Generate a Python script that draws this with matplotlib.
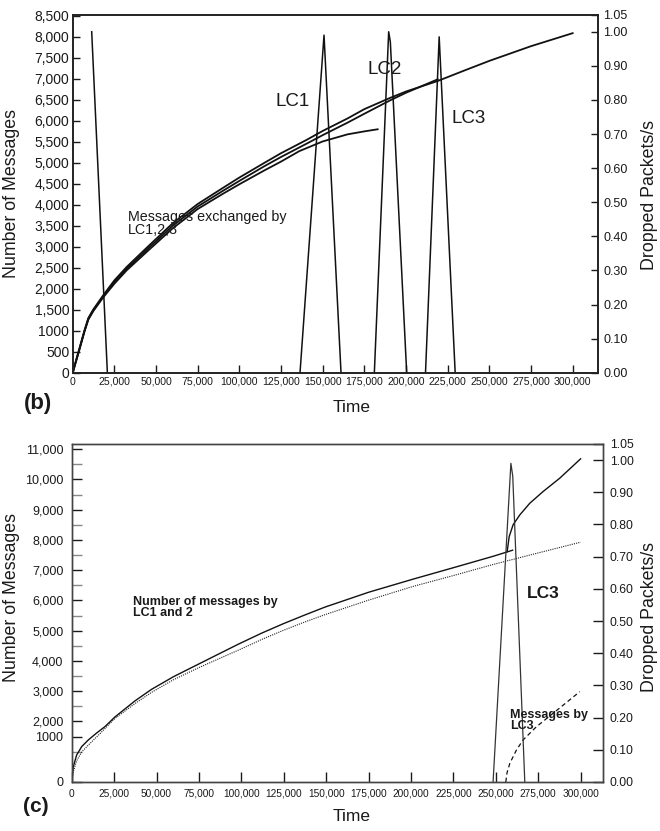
import matplotlib.pyplot as plt
import numpy as np

plt.rcParams['font.family'] = ['Liberation Sans', 'DejaVu Sans']

W, H = 660, 831
nan = np.nan

# ---------------- panel (b) data ----------------
b_lc1_time = [0, 2000, 4400, 7000, 9400, 12400, 18400, 25000, 32400, 45000, 60000,
              75000, 90000, 100000, 115000, 125000, 136000, 150000, 165000, 175000, 183000]
b_lc1_msgs = [0, 270, 600, 970, 1265, 1470, 1800, 2120, 2440, 2900, 3440,
              3900, 4260, 4490, 4820, 5030, 5280, 5510, 5680, 5750, 5800]

b_lc2_time = [0, 2000, 4400, 7000, 9400, 12400, 18400, 25000, 32400, 45000, 60000,
              75000, 90000, 100000, 115000, 125000, 140000, 150000, 165000, 175000,
              190000, 200000, 219000]
b_lc2_msgs = [0, 280, 615, 985, 1285, 1490, 1820, 2160, 2480, 2950, 3500,
              3960, 4330, 4570, 4920, 5140, 5450, 5660, 5960, 6170,
              6480, 6670, 6990]

b_lc3_time = [0, 2000, 4400, 7000, 9400, 12400, 18400, 25000, 32400, 45000, 60000,
              75000, 90000, 100000, 115000, 125000, 140000, 150000, 165000, 175000,
              190000, 200000, 219000, 235000, 250000, 275000, 300000]
b_lc3_msgs = [0, 290, 630, 1000, 1305, 1510, 1850, 2200, 2520, 3000, 3560,
              4020, 4400, 4650, 5000, 5230, 5540, 5760, 6060, 6280,
              6540, 6700, 6950, 7200, 7430, 7780, 8090]

b_drop_time = [11400, 20800, nan, 136400, 150800, 161000, nan,
               181000, 189600, 190600, 200400, nan, 211700, 219900, 229500]
b_drop_rate = [1.00, 0.00, nan, 0.00, 0.99, 0.00, nan,
               0.00, 1.00, 0.97, 0.00, nan, 0.00, 0.985, 0.00]

b_msg_ticks = [0, 500, 1000, 1500, 2000, 2500, 3000, 3500, 4000, 4500,
               5000, 5500, 6000, 6500, 7000, 7500, 8000, 8500]
b_msg_labels = ['0', '500', '1000', '1,500', '2,000', '2,500', '3,000', '3,500', '4,000',
                '4,500', '5,000', '5,500', '6,000', '6,500', '7,000', '7,500', '8,000', '8,500']

# ---------------- panel (c) data ----------------
c_lc12_time = [0, 950, 2900, 5900, 9800, 14500, 19600, 25500, 37300, 47000, 60000,
               74200, 87000, 98800, 112000, 124700, 137000, 149300, 175000, 201000,
               225500, 248500, 259900]
c_lc12_msgs = [0, 505, 890, 1170, 1390, 1610, 1830, 2150, 2680, 3060, 3480,
               3880, 4240, 4570, 4920, 5230, 5510, 5780, 6270, 6700,
               7090, 7460, 7660]

c_dotted_time = [0, 1000, 2900, 6000, 9800, 16700, 25500, 37000, 47000, 60000, 74200,
                 87000, 98800, 112000, 124700, 137000, 149300, 175000, 201000, 225500,
                 248500, 275000, 300000]
c_dotted_msgs = [0, 350, 700, 1000, 1220, 1600, 2100, 2580, 2960, 3380, 3760,
                 4080, 4370, 4710, 5010, 5280, 5530, 6010, 6460, 6830,
                 7190, 7570, 7925]

c_lc3_time = [256700, 257900, 260200, 264200, 270000, 277900, 287700, 300000]
c_lc3_msgs = [7610, 8110, 8500, 8830, 9210, 9600, 10040, 10680]

c_lc3only_time = [255900, 256600, 258300, 262200, 266100, 274000, 283800, 299500]
c_lc3only_msgs = [0, 300, 620, 1060, 1390, 1830, 2270, 2985]

c_drop_time = [248400, 258900, 260000, 267100]
c_drop_rate = [0.00, 0.99, 0.95, 0.00]

c_msg_major = [0, 1500, 2000, 3000, 4000, 5000, 6000, 7000, 8000, 9000, 10000, 11000]
c_msg_labels = ['0', '1000', '2,000', '3,000', '4,000', '5,000', '6,000',
                '7,000', '8,000', '9,000', '10,000', '11,000']
c_msg_minor = [1000, 2500, 3500, 4500, 5500, 6500, 7500, 8500, 9500, 10500]

# shared axis ticks
time_ticks = [0, 25000, 50000, 75000, 100000, 125000, 150000, 175000,
              200000, 225000, 250000, 275000, 300000]
time_labels = ['0', '25,000', '50,000', '75,000', '100,000', '125,000', '150,000',
               '175,000', '200,000', '225,000', '250,000', '275,000', '300,000']
drop_ticks = [0.0, 0.1, 0.2, 0.3, 0.4, 0.5, 0.6, 0.7, 0.8, 0.9, 1.0, 1.05]
drop_labels = ['0.00', '0.10', '0.20', '0.30', '0.40', '0.50', '0.60',
               '0.70', '0.80', '0.90', '1.00', '1.05']

TXT = '#1a1a1a'


def box(left, top, right, bottom):
    return [left / W, 1 - bottom / H, (right - left) / W, (bottom - top) / H]


def ftext(x, y, s, **kw):
    kw.setdefault('color', TXT)
    fig.text(x / W, 1 - y / H, s, **kw)


fig = plt.figure(figsize=(6.6, 8.31), dpi=100)

# ================= panel (b) =================
ax = fig.add_axes(box(72.7, 14.7, 598, 372.7))
for t, m in [(b_lc1_time, b_lc1_msgs), (b_lc2_time, b_lc2_msgs), (b_lc3_time, b_lc3_msgs)]:
    ax.plot(t, m, color='#111111', lw=1.3, solid_joinstyle='round')
ax.set_xlim(0, 315200)
ax.set_ylim(0, 8530)
ax.set_yticks(b_msg_ticks, b_msg_labels)
ax.set_xticks(time_ticks, time_labels)
ax.tick_params(axis='y', direction='in', length=5, width=1, labelsize=10, pad=2.5, colors=TXT)
ax.tick_params(axis='x', direction='in', length=6, width=1, labelsize=7.6, pad=3, colors=TXT)

ax2 = ax.twinx()
ax2.plot(b_drop_time, b_drop_rate, color='#111111', lw=1.1)
ax2.set_ylim(0, 1.05)
ax2.set_yticks(drop_ticks, drop_labels)
ax2.tick_params(axis='y', direction='in', length=5, width=1, labelsize=9, pad=4, colors=TXT)
for a in (ax, ax2):
    for sp in a.spines.values():
        sp.set_linewidth(1.2)
        sp.set_color('#222222')

ftext(292.5, 101.7, 'LC1', fontsize=13.5, ha='center', va='center')
ftext(385, 70, 'LC2', fontsize=13.5, ha='center', va='center')
ftext(468.7, 118.3, 'LC3', fontsize=13.5, ha='center', va='center')
ftext(127.7, 223.3, 'Messages exchanged by\nLC1,2,3', fontsize=10.3,
      ha='left', va='center', linespacing=0.92)

ftext(12, 193, 'Number of Messages', fontsize=12.8, rotation=90, ha='center', va='center')
ftext(650, 195, 'Dropped Packets/s', fontsize=12.8, rotation=90, ha='center', va='center')
ftext(351.7, 408, 'Time', fontsize=12.5, ha='center', va='center')
ftext(38, 403, '(b)', fontsize=16, weight='bold', ha='center', va='center')

# ================= panel (c) =================
cx = fig.add_axes(box(71.7, 444, 603, 782))
cx.plot(c_lc12_time, c_lc12_msgs, color='#111111', lw=1.0, solid_joinstyle='round')
cx.plot(c_dotted_time, c_dotted_msgs, color='#222222', lw=0.8, linestyle=(0, (1, 1)))
cx.plot(c_lc3_time, c_lc3_msgs, color='#111111', lw=1.0, solid_joinstyle='round')
cx.plot(c_lc3only_time, c_lc3only_msgs, color='#111111', lw=0.9, linestyle=(0, (3.5, 2.5)))
cx.set_xlim(0, 313200)
cx.set_ylim(0, 11170)
cx.set_yticks(c_msg_major, c_msg_labels)
cx.set_yticks(c_msg_minor, minor=True)
cx.set_xticks(time_ticks, time_labels)
cx.tick_params(axis='y', which='major', direction='in', length=7, width=1, labelsize=9, pad=6, colors=TXT)
cx.tick_params(axis='y', which='minor', direction='in', length=7, width=1, color='#888888')
cx.tick_params(axis='x', direction='in', length=7, width=1, labelsize=7.3, pad=5, colors=TXT)

cx2 = cx.twinx()
cx2.plot(c_drop_time, c_drop_rate, color='#333333', lw=0.9)
cx2.set_ylim(0, 1.05)
cx2.set_yticks(drop_ticks, drop_labels)
cx2.tick_params(axis='y', direction='in', length=7, width=1, labelsize=8.8, pad=5, colors=TXT)
for a in (cx, cx2):
    for sp in a.spines.values():
        sp.set_linewidth(1.0)
        sp.set_color('#444444')

ftext(132.7, 607.5, 'Number of messages by\nLC1 and 2', fontsize=9, weight='bold',
      ha='left', va='center', linespacing=0.9)
ftext(543, 593.3, 'LC3', fontsize=12.5, weight='bold', ha='center', va='center')
ftext(510, 720.5, 'Messages by\nLC3', fontsize=9, weight='bold',
      ha='left', va='center', linespacing=0.9)

ftext(12, 597, 'Number of Messages', fontsize=12.8, rotation=90, ha='center', va='center')
ftext(650, 617, 'Dropped Packets/s', fontsize=12.8, rotation=90, ha='center', va='center')
ftext(351.7, 816.7, 'Time', fontsize=12.5, ha='center', va='center')
ftext(36, 806.7, '(c)', fontsize=15, weight='bold', ha='center', va='center')

fig.savefig('out.png', dpi=100)
